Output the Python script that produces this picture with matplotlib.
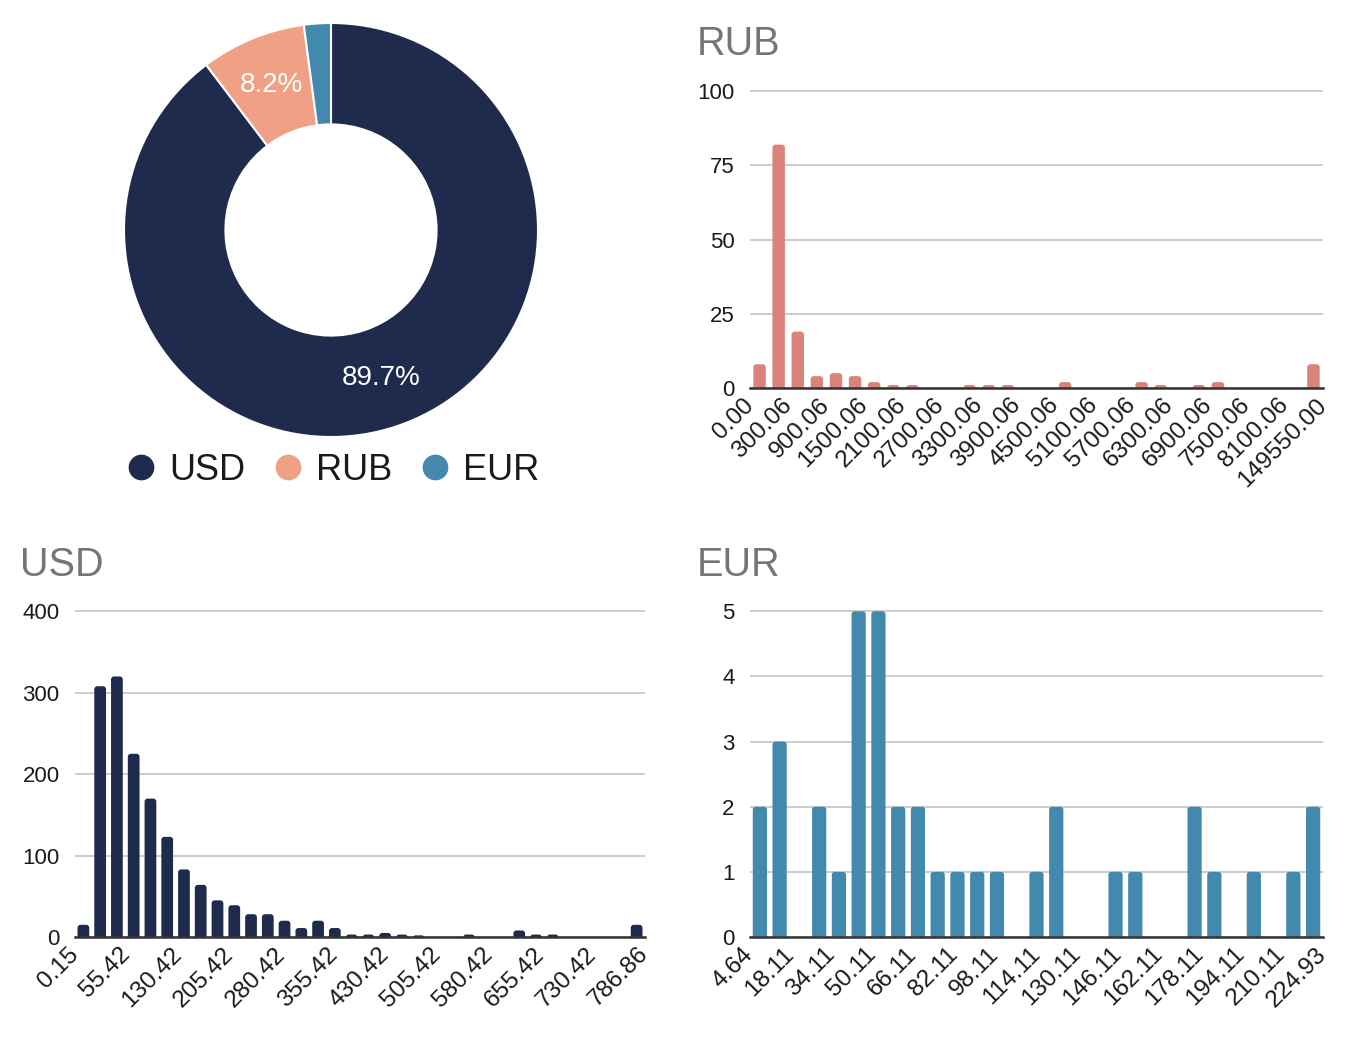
import numpy as np
import matplotlib
matplotlib.use("Agg")
import matplotlib.pyplot as plt
from matplotlib.lines import Line2D
from matplotlib.patches import FancyBboxPatch

plt.rcParams['font.family'] = ['Liberation Sans', 'DejaVu Sans']

# ---------------- data ----------------
currencies = ['USD', 'RUB', 'EUR']
shares = [89.7, 8.2, 2.1]

rub_counts = [8, 82, 19, 4, 5, 4, 2, 1, 1, 0, 0, 1, 1, 1, 0, 0, 2, 0, 0, 0,
              2, 1, 0, 1, 2, 0, 0, 0, 0, 8]
rub_labels = ['0.00', '300.06', '900.06', '1500.06', '2100.06', '2700.06',
              '3300.06', '3900.06', '4500.06', '5100.06', '5700.06', '6300.06',
              '6900.06', '7500.06', '8100.06', '149550.00']

usd_counts = [15, 308, 320, 225, 170, 123, 83, 64, 45, 39, 28, 28, 20, 11, 20, 11,
              3, 3, 5, 3, 2, 0, 0, 3, 0, 0, 8, 3, 3, 0, 0, 0, 0, 15]
usd_labels = ['0.15', '55.42', '130.42', '205.42', '280.42', '355.42', '430.42',
              '505.42', '580.42', '655.42', '730.42', '786.86']

eur_counts = [2, 3, 0, 2, 1, 5, 5, 2, 2, 1, 1, 1, 1, 0, 1, 2, 0, 0, 1, 1,
              0, 0, 2, 1, 0, 1, 0, 1, 2]
eur_labels = ['4.64', '18.11', '34.11', '50.11', '66.11', '82.11', '98.11',
              '114.11', '130.11', '146.11', '162.11', '178.11', '194.11',
              '210.11', '224.93']

rub_yticks = [0, 25, 50, 75, 100]
usd_yticks = [0, 100, 200, 300, 400]
eur_yticks = [0, 1, 2, 3, 4, 5]

NAVY = '#1e2b4d'
SALMON = '#f0a185'
TEAL = '#4389ae'
RUBBAR = '#d9837a'
TITLE_GRAY = '#757575'
TXT = '#1a1a1a'

W, H = 1350, 1038
fig = plt.figure(figsize=(W / 100, H / 100), dpi=100)


def px_axes(x0, y0, x1, y1):
    """axes from pixel box (top-left origin)"""
    return fig.add_axes([x0 / W, 1 - y1 / H, (x1 - x0) / W, (y1 - y0) / H])


# ---------------- donut ----------------
axp = px_axes(124, 23, 538, 437)
wedges, texts, autotexts = axp.pie(
    shares, colors=[NAVY, SALMON, TEAL], startangle=90, counterclock=False,
    radius=1, wedgeprops=dict(width=0.49, edgecolor='white', linewidth=1.5),
    autopct=lambda p: f'{p:.1f}%' if p > 5 else '', pctdistance=0.755,
    textprops=dict(color='white', fontsize=20))
axp.set_xlim(-1, 1)
axp.set_ylim(-1, 1)
axp.set_aspect('equal')

handles = [Line2D([], [], marker='o', linestyle='none', markersize=17.5,
                  markerfacecolor=c, markeredgecolor=c)
           for c in [NAVY, SALMON, TEAL]]
fig.legend(handles, currencies, loc='center', bbox_to_anchor=(331 / W, 1 - 470 / H),
           ncol=3, frameon=False, fontsize=26, handletextpad=0.28,
           columnspacing=0.68, handlelength=1.0, labelcolor=TXT)


# ---------------- histograms ----------------
def hist(ax, counts, color, yticks, labels, width, box):
    n = len(counts)
    x = np.arange(n)
    bars = ax.bar(x, counts, width=width, color=color, zorder=3)
    ymax = yticks[-1] * 1.004
    ax.set_xlim(-0.5, n - 0.5)
    ax.set_ylim(0, ymax)
    # rounded tops: replace each bar rectangle with a rounded box of same geometry
    wpx = box[2] - box[0]
    hpx = box[3] - box[1]
    xu_per_px = n / wpx
    yu_per_px = ymax / hpx
    r_px = 3.0
    for b in bars:
        h = b.get_height()
        if h <= 0:
            continue
        b.set_visible(False)
        r_y = r_px * yu_per_px
        fb = FancyBboxPatch((b.get_x(), -r_y), b.get_width(), h + r_y,
                            boxstyle=f'round,pad=0,rounding_size={r_px * xu_per_px}',
                            mutation_aspect=yu_per_px / xu_per_px,
                            facecolor=color, edgecolor='none', zorder=3)
        ax.add_patch(fb)
    ax.set_yticks(yticks)
    ax.set_yticklabels([str(t) for t in yticks], fontsize=16, color=TXT)
    ax.grid(axis='y', color='#cccccc', linewidth=1.4, zorder=0)
    ax.grid(axis='x', visible=False)
    pos = np.linspace(-0.5, n - 0.5, len(labels))
    ax.set_xticks(pos)
    ax.set_xticklabels(labels, rotation=45, ha='right', va='center',
                       rotation_mode='anchor', fontsize=17.5, color=TXT)
    for s in ['top', 'right', 'left']:
        ax.spines[s].set_visible(False)
    ax.spines['bottom'].set_color('#333333')
    ax.spines['bottom'].set_linewidth(1.8)
    ax.spines['bottom'].set_zorder(4)
    ax.tick_params(axis='y', length=0, pad=11)
    ax.tick_params(axis='x', length=0, pad=10)


box_rub = (750, 90, 1323, 388)
ax_rub = px_axes(*box_rub)
hist(ax_rub, rub_counts, RUBBAR, rub_yticks, rub_labels, 0.65, box_rub)

box_usd = (75, 610, 645, 937)
ax_usd = px_axes(*box_usd)
hist(ax_usd, usd_counts, NAVY, usd_yticks, usd_labels, 0.7, box_usd)

box_eur = (750, 610, 1323, 937)
ax_eur = px_axes(*box_eur)
hist(ax_eur, eur_counts, TEAL, eur_yticks, eur_labels, 0.72, box_eur)

# titles
fig.text(697 / W, 1 - 55 / H, 'RUB', fontsize=28.5, color=TITLE_GRAY, va='baseline', ha='left')
fig.text(20 / W, 1 - 576 / H, 'USD', fontsize=28.5, color=TITLE_GRAY, va='baseline', ha='left')
fig.text(697 / W, 1 - 576 / H, 'EUR', fontsize=28.5, color=TITLE_GRAY, va='baseline', ha='left')

fig.savefig('out.png', dpi=100, facecolor='white')
